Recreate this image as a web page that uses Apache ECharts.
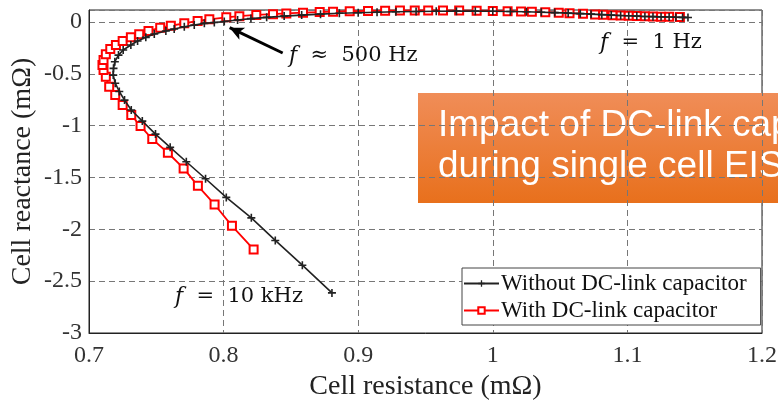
<!DOCTYPE html>
<html>
<head>
<meta charset="utf-8">
<script src="https://cdn.jsdelivr.net/npm/echarts@6/dist/echarts.min.js"></script>
<style>
    html, body { margin: 0; padding: 0; background: #fff; }
    #main { width: 778px; height: 402px; }
</style>
</head>
<body>
<div id="main"></div>
<script>
// impedance without dc-link capacitor (10 kHz -> 1 Hz)
var noCapR = [0.8805, 0.8585, 0.8384, 0.8206, 0.8020, 0.7866, 0.7723, 0.7603, 0.7494, 0.7396,
    0.7314, 0.7264, 0.7225, 0.7195, 0.7180, 0.7182, 0.7192, 0.7219, 0.7254, 0.7311,
    0.7361, 0.7422, 0.7485, 0.7571, 0.7633, 0.7708, 0.7782, 0.7857, 0.7931, 0.8005,
    0.8104, 0.8203, 0.8320, 0.8450, 0.8580, 0.8720, 0.8860, 0.9000, 0.9140, 0.9280,
    0.9430, 0.9580, 0.9730, 0.9870, 1.0000, 1.0130, 1.0250, 1.0360, 1.0460, 1.0560,
    1.0650, 1.0730, 1.0810, 1.0880, 1.0950, 1.1010, 1.1070, 1.1130, 1.1190, 1.1250,
    1.1310, 1.1360, 1.1410, 1.1450];
var noCapX = [-2.613, -2.346, -2.107, -1.889, -1.692, -1.512, -1.348, -1.209, -1.081, -0.956,
    -0.849, -0.753, -0.670, -0.590, -0.512, -0.447, -0.383, -0.319, -0.270, -0.222,
    -0.183, -0.148, -0.116, -0.087, -0.068, -0.045, -0.029, -0.013, -0.004, 0.005,
    0.019, 0.033, 0.045, 0.057, 0.067, 0.076, 0.084, 0.090, 0.095, 0.099,
    0.102, 0.104, 0.105, 0.105, 0.104, 0.102, 0.099, 0.095, 0.091, 0.086,
    0.081, 0.076, 0.071, 0.067, 0.063, 0.060, 0.057, 0.054, 0.052, 0.050,
    0.048, 0.046, 0.045, 0.044];

// impedance with dc-link capacitor
var capR = [0.8223, 0.8062, 0.7933, 0.7809, 0.7703, 0.7586, 0.7470, 0.7383, 0.7314, 0.7250,
    0.7195, 0.7150, 0.7125, 0.7108, 0.7100, 0.7108, 0.7125, 0.7158, 0.7200, 0.7250,
    0.7311, 0.7373, 0.7442, 0.7529, 0.7608, 0.7708, 0.7807, 0.7894, 0.8020, 0.8117,
    0.8243, 0.8367, 0.8466, 0.8590, 0.8714, 0.8813, 0.8937, 0.9073, 0.9200, 0.9310,
    0.9420, 0.9520, 0.9630, 0.9750, 0.9880, 1.0000, 1.0110, 1.0210, 1.0290, 1.0390,
    1.0490, 1.0570, 1.0670, 1.0760, 1.0820, 1.0890, 1.0950, 1.1010, 1.1070, 1.1130,
    1.1190, 1.1250, 1.1310, 1.1390];
var capX = [-2.194, -1.966, -1.760, -1.580, -1.412, -1.261, -1.129, -1.004, -0.898, -0.800,
    -0.705, -0.624, -0.528, -0.463, -0.415, -0.367, -0.312, -0.261, -0.222, -0.183,
    -0.148, -0.119, -0.087, -0.055, -0.036, -0.013, 0.010, 0.026, 0.045, 0.056,
    0.068, 0.076, 0.083, 0.090, 0.096, 0.100, 0.104, 0.107, 0.109, 0.110,
    0.111, 0.111, 0.111, 0.110, 0.109, 0.107, 0.105, 0.102, 0.099, 0.095,
    0.090, 0.085, 0.079, 0.073, 0.069, 0.066, 0.063, 0.060, 0.057, 0.055,
    0.053, 0.051, 0.050, 0.048];

var seriesNames = ['Without DC-link capacitor', 'With DC-link capacitor'];
// arrow pointing at the 500 Hz point (tail, head)
var arrowPts = [[0.8439, -0.299], [0.8045, -0.055]];

function pairs(a, b) {
    var out = [];
    for (var i = 0; i < a.length; i++) out.push([a[i], b[i]]);
    return out;
}

var serif = '"Liberation Serif", "Times New Roman", serif';
var mathFont = '"DejaVu Serif", serif';
var myChart = echarts.init(document.getElementById('main'));

function mathText(str, left, top) {
    return {
        type: 'text',
        left: left,
        top: top,
        z: 50,
        style: {
            text: str,
            fontFamily: mathFont,
            fontSize: 21,
            fill: '#111',
            rich: {
                i: {fontFamily: mathFont, fontStyle: 'italic', fontSize: 22, fill: '#111'}
            }
        }
    };
}

option = {
    animation: false,
    grid: {
        left: 89,
        right: 16,
        top: 10,
        bottom: 69,
        show: true,
        borderColor: '#222',
        borderWidth: 1,
        outerBoundsMode: 'none'
    },
    legend: {
        orient: 'vertical',
        left: 462,
        top: 268,
        padding: [4, 14, 3, 1],
        itemGap: 4,
        itemWidth: 35,
        itemHeight: 8,
        backgroundColor: '#fff',
        borderColor: '#444',
        borderWidth: 1,
        borderRadius: 0,
        textStyle: {fontFamily: serif, fontSize: 23, color: '#111', padding: [0, 0, 0, -3]},
        data: seriesNames
    },
    xAxis: {
        type: 'value',
        min: 0.7,
        max: 1.2,
        interval: 0.1,
        name: 'Cell resistance (mΩ)',
        nameLocation: 'middle',
        nameGap: 40,
        nameMoveOverlap: false,
        nameTextStyle: {fontFamily: serif, fontSize: 28, color: '#222'},
        axisLine: {show: true, onZero: false, lineStyle: {color: '#222'}},
        axisTick: {show: false},
        axisLabel: {fontFamily: serif, fontSize: 24, color: '#333', margin: 11},
        splitLine: {show: true, lineStyle: {color: '#777', type: [6, 4], width: 1}}
    },
    yAxis: {
        type: 'value',
        min: -3,
        max: 0.116,
        interval: 0.5,
        name: 'Cell reactance (mΩ)',
        nameLocation: 'middle',
        nameGap: 52,
        nameMoveOverlap: false,
        nameTextStyle: {fontFamily: serif, fontSize: 28, color: '#222'},
        axisLine: {show: true, onZero: false, lineStyle: {color: '#222'}},
        axisTick: {show: false},
        axisLabel: {fontFamily: serif, fontSize: 24, color: '#333', margin: 7, showMaxLabel: false},
        splitLine: {show: true, lineStyle: {color: '#777', type: [6, 4], width: 1}}
    },
    series: [
        {
            name: seriesNames[0],
            type: 'line',
            data: pairs(noCapR, noCapX),
            symbol: 'path://M4,0H6V4H10V6H6V10H4V6H0V4H4Z',
            symbolSize: 8,
            showAllSymbol: true,
            lineStyle: {color: '#222', width: 1.6},
            itemStyle: {color: '#222'},
            z: 3,
            markLine: {
                silent: true,
                symbol: ['none', 'arrow'],
                symbolSize: [10, 14],
                label: {show: false},
                lineStyle: {color: '#000', width: 3, type: 'solid'},
                data: [[{coord: arrowPts[0]}, {coord: arrowPts[1]}]]
            }
        },
        {
            name: seriesNames[1],
            type: 'line',
            data: pairs(capR, capX),
            symbol: 'rect',
            symbolSize: 8,
            showAllSymbol: true,
            lineStyle: {color: '#ff0000', width: 1.8},
            itemStyle: {color: '#fff', borderColor: '#ff0000', borderWidth: 2},
            z: 2
        }
    ],
    graphic: [
        mathText('{i|f}  ≈  500 Hz', 289, 45),
        mathText('{i|f}  =  1 Hz', 600, 32),
        mathText('{i|f}  =  10 kHz', 175, 286),
        {
            type: 'group',
            z: 100,
            children: [
                {
                    type: 'rect',
                    shape: {x: 418, y: 93, width: 380, height: 110},
                    style: {
                        fill: new echarts.graphic.LinearGradient(0, 0, 0, 1, [
                            {offset: 0, color: '#f08d58'},
                            {offset: 1, color: '#e8701c'}
                        ])
                    }
                },
                {
                    type: 'text',
                    x: 438,
                    y: 105,
                    style: {
                        text: 'Impact of DC-link capacitor\nduring single cell EIS',
                        fontFamily: '"Liberation Sans", Arial, sans-serif',
                        fontSize: 37,
                        lineHeight: 41,
                        fill: '#fff'
                    }
                }
            ]
        }
    ]
};

myChart.setOption(option);
</script>
</body>
</html>
